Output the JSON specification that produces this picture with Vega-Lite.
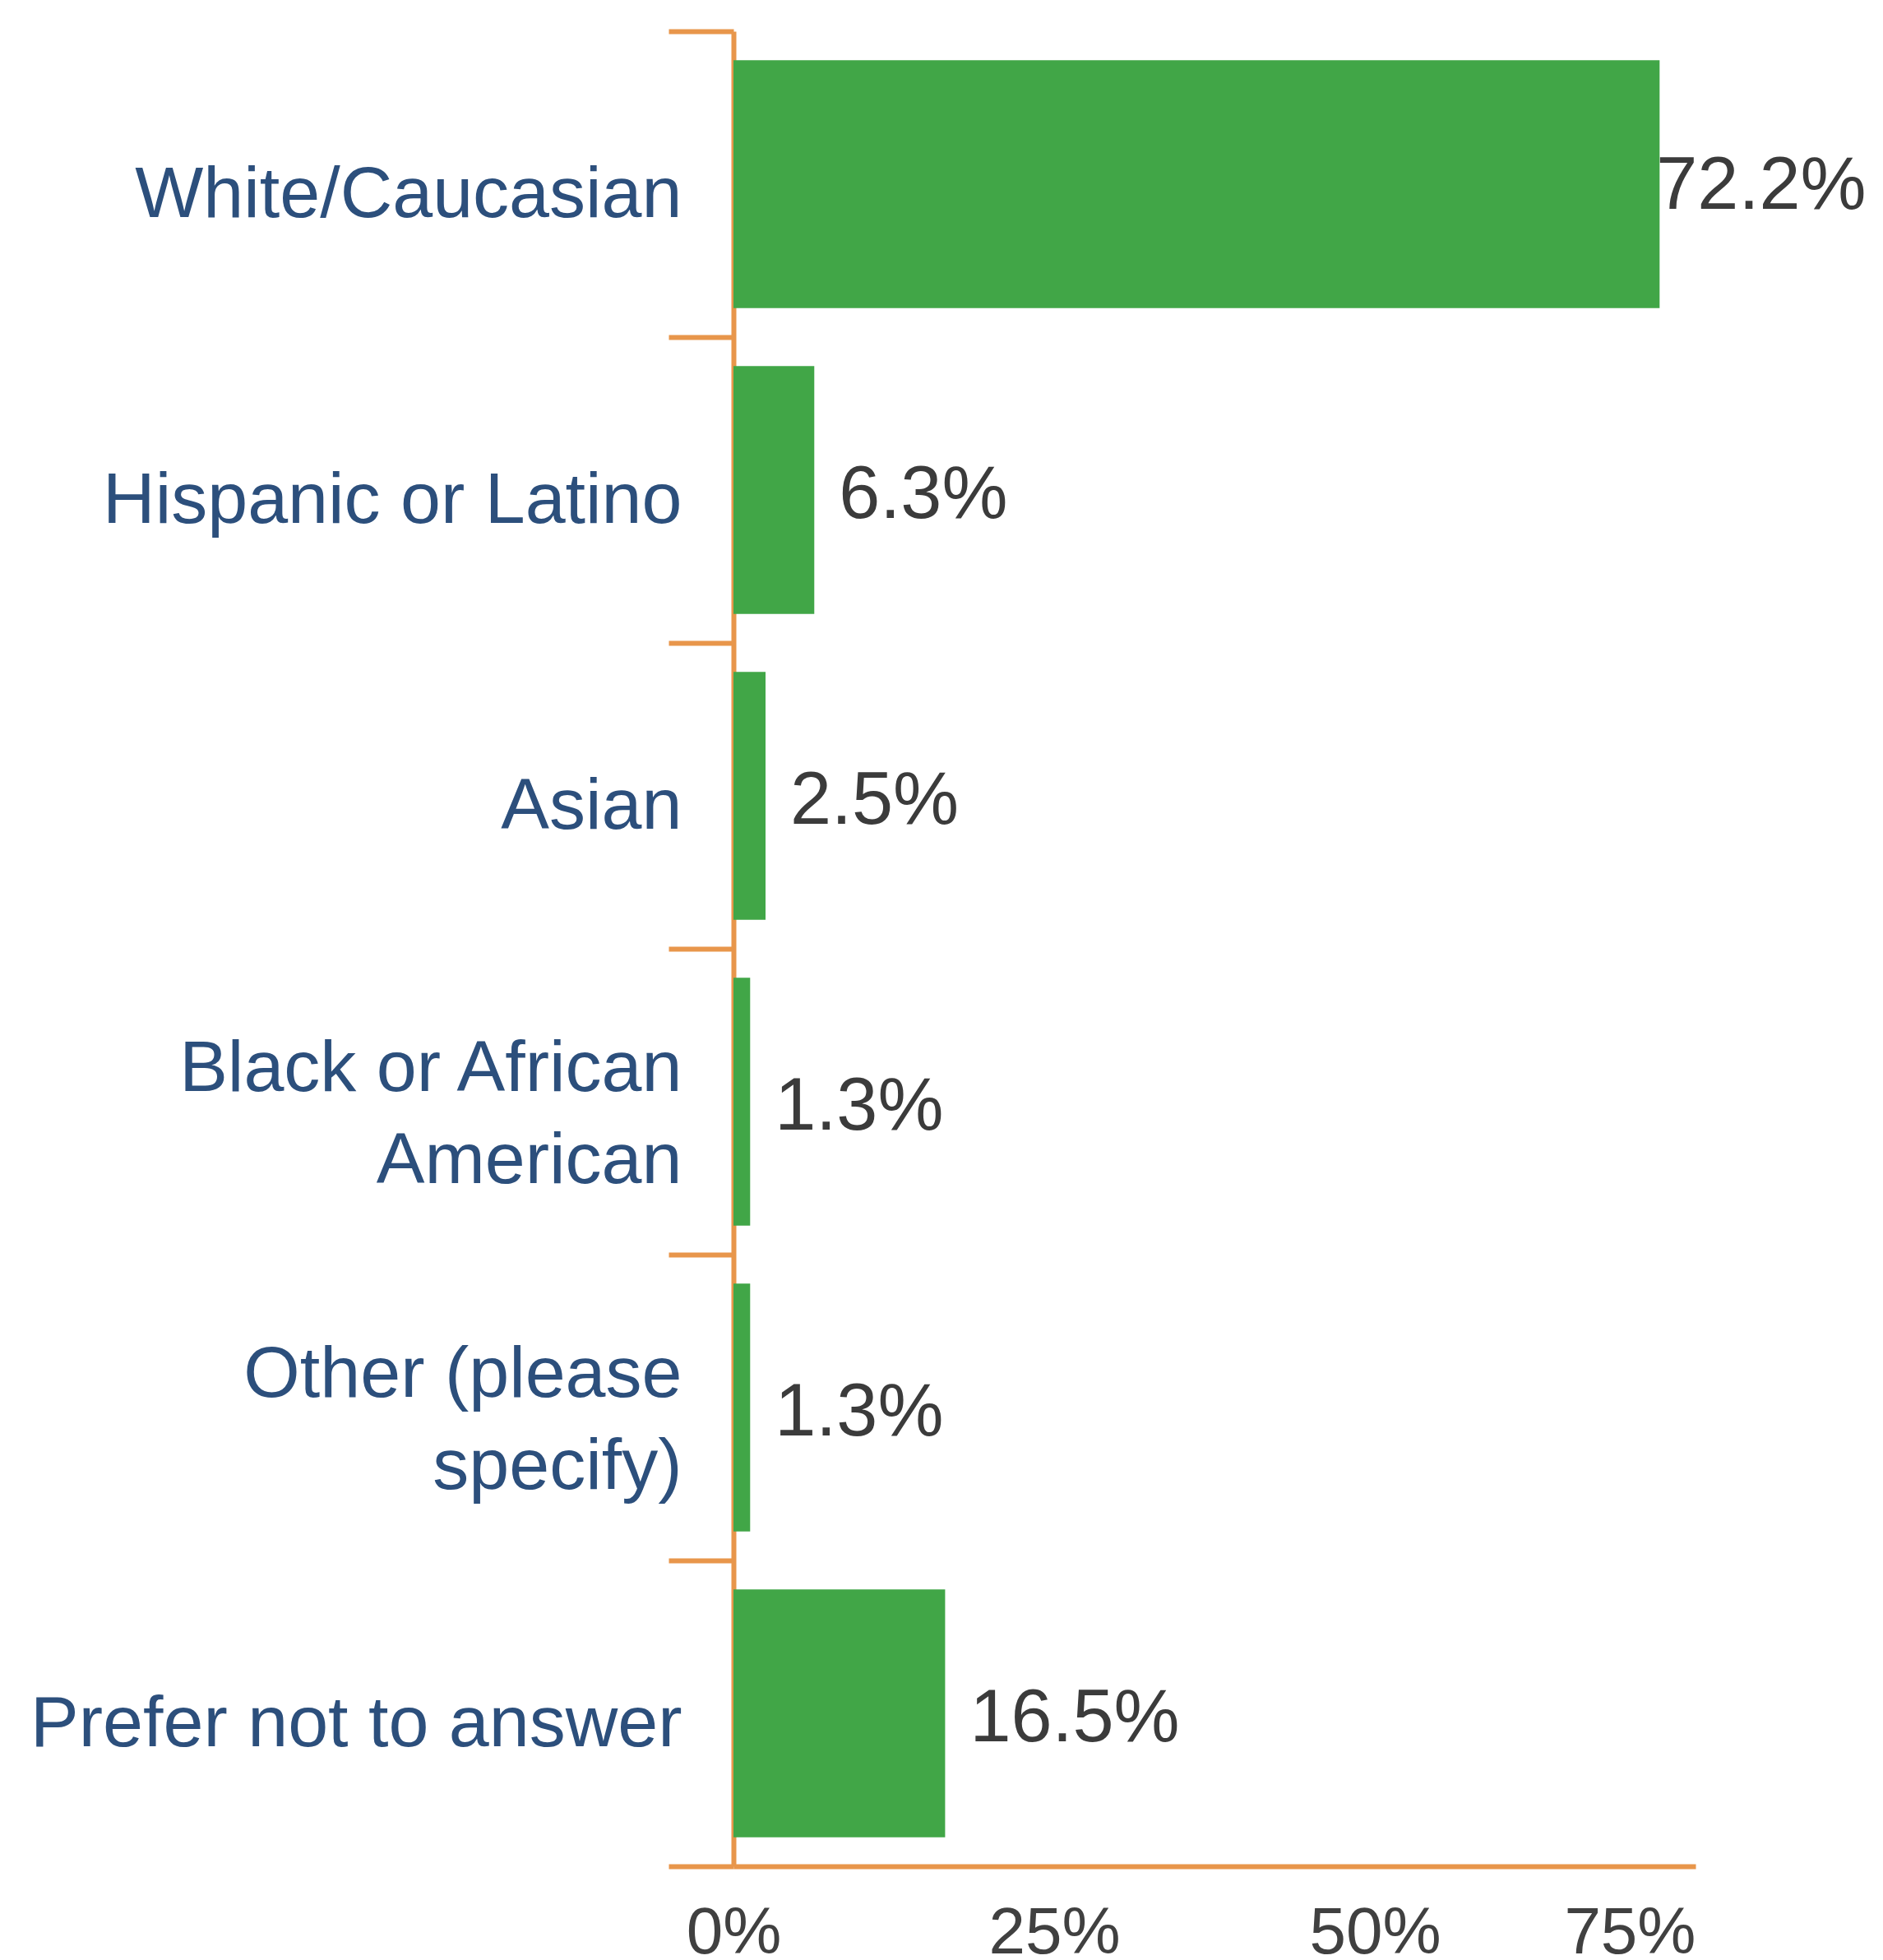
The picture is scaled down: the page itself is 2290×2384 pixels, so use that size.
{
  "$schema": "https://vega.github.io/schema/vega-lite/v6.json",
  "autosize": {"type": "none"},
  "padding": {"left": 892, "top": 38, "right": 228, "bottom": 114},
  "width": 1170,
  "height": 2232,
  "background": "white",
  "config": {"view": {"stroke": null}, "font": "Liberation Sans"},
  "data": {
    "values": [
      {"category": "White/Caucasian", "share": 0.722},
      {"category": "Hispanic or Latino", "share": 0.063},
      {"category": "Asian", "share": 0.025},
      {"category": "Black or African American", "share": 0.013},
      {"category": "Other (please specify)", "share": 0.013},
      {"category": "Prefer not to answer", "share": 0.165}
    ]
  },
  "encoding": {
    "y": {
      "field": "category",
      "type": "nominal",
      "sort": null,
      "title": null,
      "scale": {"paddingInner": 0, "paddingOuter": 0},
      "axis": {
        "domainColor": "#E8964B",
        "domainWidth": 6,
        "tickColor": "#E8964B",
        "tickWidth": 6,
        "tickSize": 79,
        "tickBand": "extent",
        "labelPadding": -16,
        "labelFontSize": 88,
        "labelFont": "Liberation Sans",
        "labelColor": "#2C4F7C",
        "labelLimit": 0,
        "labelOffset": {"condition": {"test": "datum.value == 'Black or African American' || datum.value == 'Other (please specify)'", "value": -40}, "value": 13},
        "labelLineHeight": 112,
        "labelBaseline": "middle",
        "labelExpr": "datum.label == 'Black or African American' ? ['Black or African', 'American'] : datum.label == 'Other (please specify)' ? ['Other (please', 'specify)'] : datum.label"
      }
    }
  },
  "layer": [
    {
      "mark": {"type": "bar", "color": "#41A647", "height": {"band": 0.81}},
      "encoding": {
        "x": {
          "field": "share",
          "type": "quantitative",
          "title": null,
          "scale": {"domain": [0, 0.75], "nice": false, "zero": true},
          "axis": {
            "values": [0, 0.25, 0.5, 0.75],
            "format": ".0%",
            "grid": false,
            "ticks": false,
            "domainColor": "#E8964B",
            "domainWidth": 6,
            "labelFlush": false,
            "labelOverlap": false,
            "labelFontSize": 80,
            "labelFont": "Liberation Sans",
            "labelColor": "#404040",
            "labelPadding": 42,
            "labelAlign": {"condition": {"test": "datum.value >= 0.75", "value": "right"}, "value": "center"}
          }
        }
      }
    },
    {
      "transform": [{"filter": "datum.share < 0.5"}],
      "mark": {"type": "text", "align": "left", "baseline": "middle", "dx": 30, "dy": 7, "fontSize": 90, "font": "Liberation Sans", "color": "#3B3B3B"},
      "encoding": {
        "x": {"field": "share", "type": "quantitative"},
        "text": {"field": "share", "type": "quantitative", "format": ".1%"}
      }
    },
    {
      "transform": [{"filter": "datum.share >= 0.5"}],
      "mark": {"type": "text", "align": "left", "baseline": "middle", "dx": -4, "dy": 3, "fontSize": 90, "font": "Liberation Sans", "color": "#3B3B3B"},
      "encoding": {
        "x": {"field": "share", "type": "quantitative"},
        "text": {"field": "share", "type": "quantitative", "format": ".1%"}
      }
    }
  ]
}
